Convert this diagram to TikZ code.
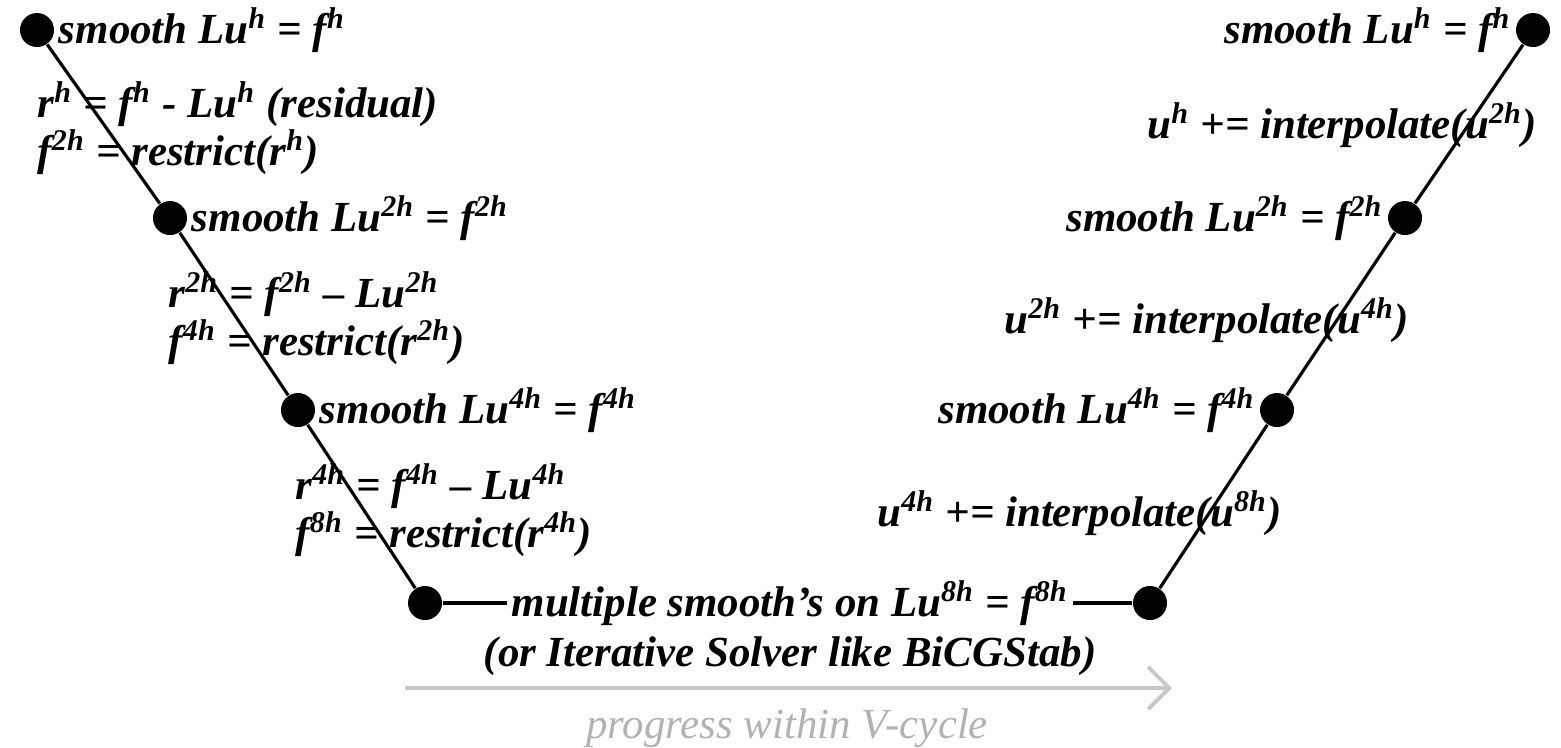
\documentclass[tikz,border=0pt]{standalone}
\usepackage{fontspec}
\usepackage{graphicx}
\setmainfont{Liberation Serif}
\usetikzlibrary{arrows.meta,positioning}
\definecolor{progline}{RGB}{200,200,200}
\definecolor{progtext}{RGB}{178,178,178}
\newcommand{\sps}[1]{\textsuperscript{#1}}

\begin{document}
\begin{tikzpicture}[x=0.01cm,y=-0.01cm,>=Stealth,
    dot/.style={circle,fill=black,inner sep=0pt,minimum size=0.34cm},
    lbl/.style={font=\fontsize{12.2}{13.6}\selectfont\bfseries\itshape,inner sep=1pt},
    pair/.style={lbl,align=left,inner sep=0pt},
    vline/.style={line width=0.9pt},
    progress/.style={draw=progline,line width=1.1pt,-{Straight Barb[length=6pt,width=12pt,line width=1.1pt]}}]
  \def\ya{30}    % nivel h
  \def\yb{218}   % nivel 2h
  \def\yc{410}   % nivel 4h
  \def\yd{603}   % nivel 8h
  \useasboundingbox (0,0) rectangle (1561,747);

  % --- puntos del V-ciclo
  \node[dot] (l1) at (37,\ya) {};
  \node[dot] (l2) at (170,\yb) {};
  \node[dot] (l3) at (298,\yc) {};
  \node[dot] (l4) at (425,\yd) {};
  \node[dot] (r4) at (1150,\yd) {};
  \node[dot] (r3) at (1277,\yc) {};
  \node[dot] (r2) at (1405,\yb) {};
  \node[dot] (r1) at (1533,\ya) {};

  % --- nivel mas grueso
  \node[lbl] (c1) at (790,\yd) {multiple smooth's on Lu\sps{8h} = f\sps{8h}};
  \node[lbl,anchor=base] (c2) at (790,666) {(or Iterative Solver like BiCGStab)};

  % --- lineas
  \draw[vline] (l1) -- (l2) -- (l3) -- (l4);
  \draw[vline] (l4) -- (c1.west);
  \draw[vline] (c1.east) -- (r4);
  \draw[vline] (r4) -- (r3) -- (r2) -- (r1);

  % --- bajada (restriccion)
  \node[lbl,right=0pt of l1] (s1) {smooth Lu\sps{h} = f\sps{h}};
  \node[lbl,right=0pt of l2] (s2) {smooth Lu\sps{2h} = f\sps{2h}};
  \node[lbl,right=0pt of l3] (s3) {smooth Lu\sps{4h} = f\sps{4h}};
  \node[pair,anchor=west] (d1) at (37,128)
       {r\sps{h} = f\sps{h} - Lu\sps{h} (residual)\\ f\sps{2h} = restrict(r\sps{h})};
  \node[pair,anchor=west] (d2) at (168,318)
       {r\sps{2h} = f\sps{2h} – Lu\sps{2h}\\ f\sps{4h} = restrict(r\sps{2h})};
  \node[pair,anchor=west] (d3) at (295,510)
       {r\sps{4h} = f\sps{4h} – Lu\sps{4h}\\ f\sps{8h} = restrict(r\sps{4h})};

  % --- subida (interpolacion)
  \node[lbl,left=0pt of r1] (t1) {smooth Lu\sps{h} = f\sps{h}};
  \node[lbl,left=0pt of r2] (t2) {smooth Lu\sps{2h} = f\sps{2h}};
  \node[lbl,left=0pt of r3] (t3) {smooth Lu\sps{4h} = f\sps{4h}};
  \node[lbl,anchor=east] (u1) at (1541,125) {u\sps{h} += interpolate(u\sps{2h})};
  \node[lbl,anchor=east] (u2) at (1413,320) {u\sps{2h} += interpolate(u\sps{4h})};
  \node[lbl,anchor=east] (u3) at (1286,513) {u\sps{4h} += interpolate(u\sps{8h})};

  % --- progreso
  \coordinate (pa) at (405,688);
  \coordinate (pb) at (1172,688);
  \draw[progress] (pa) -- (pb);
  \node[font=\fontsize{12.2}{14}\selectfont\itshape,text=progtext,anchor=base] (pt) at (787,738)
       {progress within V-cycle};
\end{tikzpicture}
\end{document}
